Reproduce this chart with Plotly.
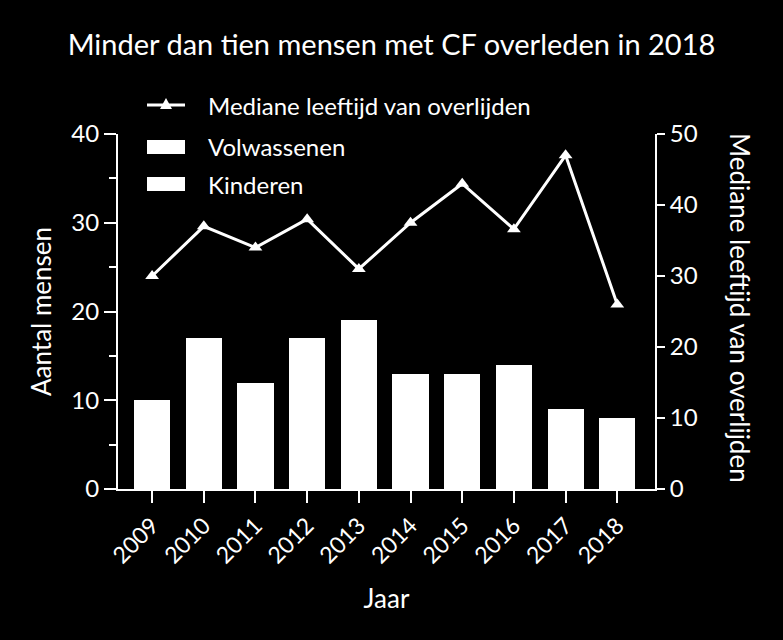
import plotly.graph_objects as go

years = ["2009", "2010", "2011", "2012", "2013", "2014", "2015", "2016", "2017", "2018"]
volwassenen = [10, 17, 12, 17, 19, 13, 13, 14, 9, 8]
kinderen = [0, 0, 0, 0, 0, 0, 0, 0, 0, 0]
mediane_leeftijd = [30, 37, 34, 38, 31, 37.5, 43, 36.6, 47, 26]
legend_labels = ["Mediane leeftijd van overlijden", "Volwassenen", "Kinderen"]
right_axis_title = "Mediane leeftijd van overlijden"

FONT = "Lato"
W = "white"

# plot-area pixel geometry (used only for the hand-drawn legend and right title)
L, R, T, B = 118, 655, 134, 489
def px(x):
    return (x - L) / (R - L)
def py(y):
    return (B - y) / (B - T)

fig = go.Figure()
fig.add_trace(go.Bar(x=years, y=volwassenen, name="Volwassenen", marker=dict(color=W, line=dict(width=0)),
                     width=0.7))
fig.add_trace(go.Bar(x=years, y=kinderen, name="Kinderen", marker=dict(color=W, line=dict(width=0)),
                     width=0.7))
fig.add_trace(go.Scatter(x=years, y=mediane_leeftijd, name="Mediane leeftijd van overlijden", yaxis="y2",
                         mode="lines+markers", line=dict(color=W, width=3),
                         marker=dict(symbol="triangle-up", size=12, color=W)))

# legend drawn by hand (wide swatches like the reference)
shapes = []
annotations = []
rows_y = [105, 147, 184]
shapes.append(dict(type="line", xref="paper", yref="paper", x0=px(147), x1=px(185), y0=py(rows_y[0]),
                   y1=py(rows_y[0]), line=dict(color=W, width=3)))
tx = 166
shapes.append(dict(type="path", xref="paper", yref="paper",
                   path=f"M {px(tx-6)} {py(rows_y[0]+4)} L {px(tx+6)} {py(rows_y[0]+4)} L {px(tx)} {py(rows_y[0]-7)} Z",
                   fillcolor=W, line=dict(color=W, width=0)))
for ry in rows_y[1:]:
    shapes.append(dict(type="rect", xref="paper", yref="paper", x0=px(147), x1=px(185), y0=py(ry - 7),
                       y1=py(ry + 7), fillcolor=W, line=dict(width=0)))
for label, ry in zip(legend_labels, rows_y):
    annotations.append(dict(text=label, xref="paper", yref="paper", x=px(206), y=py(ry), xanchor="left",
                            yanchor="middle", showarrow=False, font=dict(family=FONT, size=24, color=W)))

# right axis title reads top-to-bottom in the reference
annotations.append(dict(text=right_axis_title, xref="paper", yref="paper", x=px(740), y=py(308),
                        xanchor="center", yanchor="middle", textangle=90, showarrow=False,
                        font=dict(family=FONT, size=26, color=W)))

fig.update_layout(
    width=783, height=640,
    paper_bgcolor="black", plot_bgcolor="black",
    font=dict(family=FONT, color=W, size=24),
    barmode="stack", bargap=0.3,
    margin=dict(l=L, r=783 - R, t=T, b=640 - B),
    title=dict(text="Minder dan tien mensen met CF overleden in 2018", x=0.5, xanchor="center",
               y=1 - 45 / 640, yanchor="middle", font=dict(family=FONT, size=29, color=W)),
    showlegend=False,
    shapes=shapes,
    annotations=annotations,
    xaxis=dict(type="category", range=[-0.66, 9.73], showline=True, linecolor=W, linewidth=2,
               ticks="outside", ticklen=12, tickwidth=2, tickcolor=W, tickangle=-45,
               tickfont=dict(size=23), showgrid=False, zeroline=False,
               title=dict(text="Jaar", font=dict(size=26), standoff=22)),
    yaxis=dict(range=[0, 40], dtick=10, showline=True, linecolor=W, linewidth=2,
               ticks="outside", ticklen=12, tickwidth=2, tickcolor=W, showgrid=False, zeroline=False,
               minor=dict(ticks="outside", dtick=5, ticklen=7, tickwidth=2, tickcolor=W, showgrid=False),
               tickfont=dict(size=24),
               title=dict(text="Aantal mensen", font=dict(size=26), standoff=12)),
    yaxis2=dict(range=[0, 50], dtick=10, overlaying="y", side="right", showline=True, linecolor=W,
                linewidth=2, ticks="outside", ticklen=8, tickwidth=2, tickcolor=W, showgrid=False,
                zeroline=False, tickfont=dict(size=24)),
)

fig.write_html("out.html", config={"displayModeBar": False},
               post_script="document.body.style.margin='0';document.body.style.background='black';")
